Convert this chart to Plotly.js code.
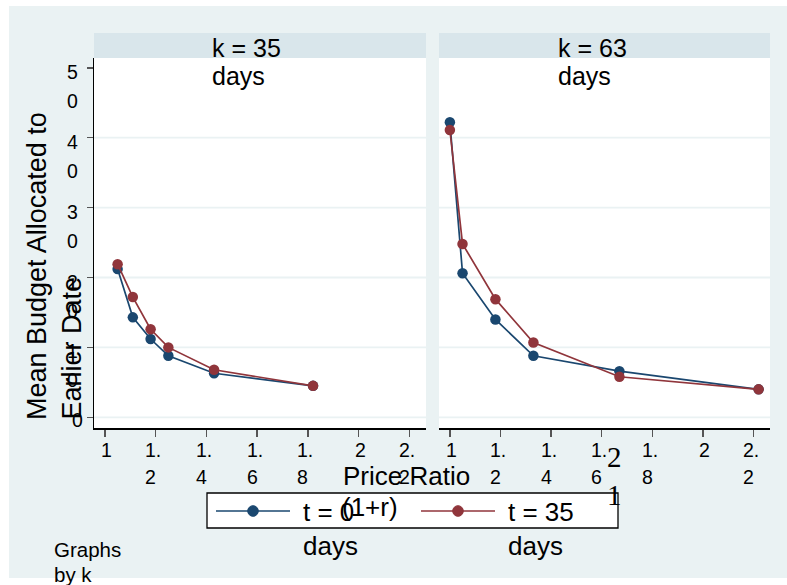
<!DOCTYPE html>
<html>
<head>
<meta charset="utf-8">
<script src="https://cdn.plot.ly/plotly-3.0.1.min.js"></script>
<style>html,body{margin:0;padding:0;background:#fff;}#chart{width:787px;height:585px;}</style>
</head>
<body>
<div id="chart"></div>
<script>
// ---- data ----
const priceRatio35 = [1.05, 1.11, 1.18, 1.25, 1.43, 1.82];
const budget35_t0  = [21.2, 14.3, 11.2, 8.8, 6.3, 4.5];
const budget35_t35 = [21.9, 17.2, 12.6, 10.0, 6.8, 4.5];
const priceRatio63 = [1.00, 1.05, 1.18, 1.33, 1.67, 2.22];
const budget63_t0  = [42.2, 20.6, 14.0, 8.8, 6.6, 4.0];
const budget63_t35 = [41.1, 24.8, 16.9, 10.7, 5.8, 4.0];
const panelLabels = [["k = 35", "days"], ["k = 63", "days"]];
const seriesNames = [["t = 0", "days"], ["t = 35", "days"]];
const xTickVals  = [1, 1.2, 1.4, 1.6, 1.8, 2, 2.2];
const xTickLines = [["1"], ["1.", "2"], ["1.", "4"], ["1.", "6"], ["1.", "8"], ["2"], ["2.", "2"]];
const yTickVals  = [0, 10, 20, 30, 40, 50];
const yTickLines = [["0"], ["1", "0"], ["2", "0"], ["3", "0"], ["4", "0"], ["5", "0"]];
const gridVals   = [0, 10, 20, 30, 40];
const yTitleLines = ["Mean Budget Allocated to", "Earlier Date"];
const xTitleLines = ["Price Ratio", "(1+r)"];
const noteLines   = ["Graphs", "by k"];
const strayGlyphs = ["2", "1"];

// ---- style ----
const W = 787, H = 585;
const px = v => v / W;
const py = v => 1 - v / H;
const SANS = "Liberation Sans, Arial, Helvetica, sans-serif";
const SERIF = "Liberation Serif, Times New Roman, serif";
const BG = "#EAF2F3", STRIP = "#D9E6EB";
const BLUE = "#1A476F", RED = "#90353B";
const TICKFONT = 19.5;

const yDomain = [py(428), py(58)];
const xRange = [0.957, 2.265];
const yRange = [-1.53, 51.4];

function line(x, y, color, name, xa, ya) {
  return {
    type: "scatter", mode: "lines+markers", x: x, y: y, xaxis: xa, yaxis: ya,
    name: name, showlegend: false, hoverinfo: "skip",
    line: {color: color, width: 1.7},
    marker: {color: color, size: 10.5, symbol: "circle"}
  };
}
const data = [
  line(priceRatio35, budget35_t0, BLUE, seriesNames[0][0], "x", "y"),
  line(priceRatio35, budget35_t35, RED, seriesNames[1][0], "x", "y"),
  line(priceRatio63, budget63_t0, BLUE, seriesNames[0][0], "x2", "y2"),
  line(priceRatio63, budget63_t35, RED, seriesNames[1][0], "x2", "y2")
];

const shapes = [];
const ann = [];
function A(o) { ann.push(Object.assign({showarrow: false, font: {family: SANS, size: TICKFONT, color: "#000"}}, o)); }

// white outer margins of the image
shapes.push({type: "rect", xref: "paper", yref: "paper", x0: 0, x1: px(9), y0: 0, y1: 1, fillcolor: "#fff", line: {width: 0}, layer: "below"});
shapes.push({type: "rect", xref: "paper", yref: "paper", x0: 0, x1: 1, y0: py(6), y1: 1, fillcolor: "#fff", line: {width: 0}, layer: "below"});
shapes.push({type: "rect", xref: "paper", yref: "paper", x0: 0, x1: 1, y0: 0, y1: py(578), fillcolor: "#fff", line: {width: 0}, layer: "below"});

// panel strips + labels
const panels = [{xa: "x", ya: "y", x0: 94, x1: 426}, {xa: "x2", ya: "y2", x0: 439, x1: 770}];
panels.forEach((p, i) => {
  shapes.push({type: "rect", xref: "paper", yref: "paper", x0: px(p.x0), x1: px(p.x1), y0: py(58), y1: py(33), fillcolor: STRIP, line: {width: 0}, layer: "below"});
  panelLabels[i].forEach((t, j) => {
    A({xref: "paper", yref: "paper", x: px(p.x0 + 116.5), y: py(48 + j * 28), text: t, xanchor: "left", yanchor: "middle", font: {family: SANS, size: 25, color: "#000"}});
  });
  gridVals.forEach(g => {
    shapes.push({type: "line", xref: p.xa + " domain", yref: p.ya, x0: 0, x1: 1, y0: g, y1: g, line: {color: BG, width: 1.8}, layer: "below"});
  });
  // x tick labels
  xTickVals.forEach((v, k) => {
    const lines = xTickLines[k];
    lines.forEach((t, j) => {
      A({xref: p.xa, yref: "paper", x: v, y: py(450 + j * 26.5), text: t,
         xanchor: lines.length > 1 ? "left" : "center", xshift: lines.length > 1 ? -12.5 : 2, yanchor: "middle"});
    });
  });
});

// y tick labels (left panel only)
yTickVals.forEach((v, k) => {
  const lines = yTickLines[k];
  lines.forEach((t, j) => {
    A({xref: "paper", yref: "y", x: px(lines.length > 1 ? 72 : 77), y: v, yshift: -(lines.length > 1 ? 4 : 3) - j * 29,
       text: t, xanchor: "center", yanchor: "middle"});
  });
});

// y title (two rotated lines, bottom aligned)
yTitleLines.forEach((t, j) => {
  A({xref: "paper", yref: "paper", x: px(37 + j * 34), y: py(422), text: t, textangle: -90,
     xanchor: "center", yanchor: "bottom", font: {family: SANS, size: 27, color: "#000"}});
});

// x title (two lines, left aligned)
xTitleLines.forEach((t, j) => {
  A({xref: "paper", yref: "paper", x: px(340 + (j === 0 ? 1 : 0)), y: py(476 + j * 31), text: t,
     xanchor: "left", yanchor: "middle", font: {family: SANS, size: 26, color: "#000"}});
});

// stray serif glyphs
strayGlyphs.forEach((t, j) => {
  A({xref: "paper", yref: "paper", x: px(614), y: py(457 + j * 38), text: t,
     xanchor: "center", yanchor: "middle", font: {family: SERIF, size: 29, color: "#000"}});
});

// legend box
shapes.push({type: "rect", xref: "paper", yref: "paper", x0: px(207), x1: px(618), y0: py(528), y1: py(493), fillcolor: "#fff", line: {color: "#000", width: 1.3}, layer: "above"});
const legendItems = [{color: BLUE, l0: 216, l1: 290, tx: 301}, {color: RED, l0: 421, l1: 495, tx: 506}];
legendItems.forEach((it, i) => {
  const cy = 511, cx = (it.l0 + it.l1) / 2, r = 5.3;
  shapes.push({type: "line", xref: "paper", yref: "paper", x0: px(it.l0), x1: px(it.l1), y0: py(cy), y1: py(cy), line: {color: it.color, width: 1.7}, layer: "above"});
  shapes.push({type: "circle", xref: "paper", yref: "paper", x0: px(cx - r), x1: px(cx + r), y0: py(cy + r), y1: py(cy - r), fillcolor: it.color, line: {color: it.color, width: 1}, layer: "above"});
  seriesNames[i].forEach((t, j) => {
    A({xref: "paper", yref: "paper", x: px(it.tx), y: py(512 + j * 34), text: t, xanchor: "left", yanchor: "middle",
       font: {family: SANS, size: 26, color: "#000"}});
  });
});

// note
noteLines.forEach((t, j) => {
  A({xref: "paper", yref: "paper", x: px(52), y: py(549 + j * 25), text: t, xanchor: "left", yanchor: "middle",
     font: {family: SANS, size: 20.5, color: "#000"}});
});

const xAxisBase = {range: xRange, showgrid: false, zeroline: false, showline: true, linecolor: "#000", linewidth: 1.5,
  ticks: "outside", ticklen: 7, tickwidth: 1.5, tickcolor: "#555", tickmode: "array", tickvals: xTickVals, showticklabels: false, fixedrange: true};
const layout = {
  width: W, height: H, margin: {l: 0, r: 0, t: 0, b: 0},
  paper_bgcolor: BG, plot_bgcolor: "#fff", showlegend: false,
  font: {family: SANS, color: "#000"},
  xaxis: Object.assign({}, xAxisBase, {domain: [px(94), px(426)], anchor: "y"}),
  xaxis2: Object.assign({}, xAxisBase, {domain: [px(439), px(770)], anchor: "y2"}),
  yaxis: {domain: yDomain, range: yRange, anchor: "x", showgrid: false, zeroline: false, showline: true, linecolor: "#000", linewidth: 1.5,
    ticks: "outside", ticklen: 6, tickwidth: 1.5, tickcolor: "#555", tickmode: "array", tickvals: yTickVals, showticklabels: false, fixedrange: true},
  yaxis2: {domain: yDomain, range: yRange, anchor: "x2", matches: "y", showgrid: false, zeroline: false, showline: false,
    ticks: "", showticklabels: false, fixedrange: true},
  shapes: shapes,
  annotations: ann
};
Plotly.newPlot("chart", data, layout, {displayModeBar: false, staticPlot: true});
</script>
</body>
</html>
